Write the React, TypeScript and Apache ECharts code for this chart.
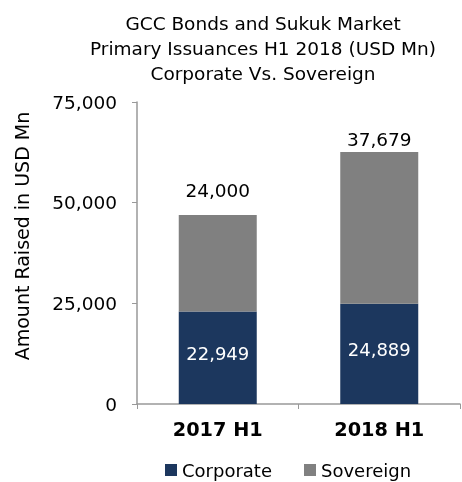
import React, { useEffect, useRef } from "react";
import * as echarts from "echarts";

const categories = ["2017 H1", "2018 H1"];
const corporate = [22949, 24889];
const sovereign = [24000, 37679];
const titleLines = [
  "GCC Bonds and Sukuk Market",
  "Primary Issuances H1 2018 (USD Mn)",
  "Corporate Vs. Sovereign",
];
const yAxisName = "Amount Raised in USD Mn";

const FONT = "DejaVu Sans";
const fmt = (v: number) => v.toLocaleString("en-US");

export default function App() {
  const ref = useRef<HTMLDivElement>(null);
  useEffect(() => {
    if (!ref.current) return;
    const chart = echarts.init(ref.current, null, { renderer: "svg" });
    const sovLabelDist = [15, 3];
    chart.setOption({
      animation: false,
      textStyle: { fontFamily: FONT },
      title: {
        text: titleLines.join("\n"),
        left: 258,
        top: 6,
        textAlign: "center",
        textStyle: {
          fontFamily: FONT,
          fontSize: 18.5,
          fontWeight: "normal",
          color: "#000",
          lineHeight: 25,
        },
      },
      graphic: [
        {
          type: "text",
          x: 22,
          y: 236,
          rotation: Math.PI / 2,
          style: {
            text: yAxisName,
            fontFamily: FONT,
            fontSize: 19,
            fill: "#000",
            align: "center",
            verticalAlign: "middle",
          },
        },
      ],
      legend: {
        top: 461,
        left: 165,
        padding: 0,
        itemWidth: 12,
        itemHeight: 12,
        itemGap: 32,
        icon: "rect",
        textStyle: { fontFamily: FONT, fontSize: 18, color: "#000" },
        data: ["Corporate", "Sovereign"],
      },
      grid: { left: 137, right: 2, top: 102, bottom: 78, containLabel: false },
      xAxis: {
        type: "category",
        data: categories,
        axisLine: { lineStyle: { color: "#999", width: 1.5 } },
        axisTick: { show: true, length: 5, lineStyle: { color: "#999" } },
        axisLabel: {
          fontFamily: FONT,
          fontSize: 19.3,
          fontWeight: "bold",
          color: "#000",
          margin: 16,
        },
      },
      yAxis: {
        type: "value",
        min: 0,
        max: 75000,
        interval: 25000,
        axisLine: { show: true, lineStyle: { color: "#999", width: 1.5 } },
        axisTick: { show: true, length: 5, lineStyle: { color: "#999" } },
        splitLine: { show: false },
        axisLabel: {
          fontFamily: FONT,
          fontSize: 18.5,
          color: "#000",
          margin: 20,
          formatter: (v: number) => fmt(v),
        },
      },
      series: [
        {
          name: "Corporate",
          type: "bar",
          stack: "total",
          barWidth: 78,
          data: corporate,
          itemStyle: { color: "#1c375e" },
          label: {
            show: true,
            position: "inside",
            offset: [0, -4],
            color: "#fff",
            fontFamily: FONT,
            fontSize: 18,
            formatter: (p: any) => fmt(p.value),
          },
        },
        {
          name: "Sovereign",
          type: "bar",
          stack: "total",
          barWidth: 78,
          data: sovereign.map((v, i) => ({
            value: v,
            label: { distance: sovLabelDist[i] },
          })),
          itemStyle: { color: "#808080" },
          label: {
            show: true,
            position: "top",
            color: "#000",
            fontFamily: FONT,
            fontSize: 18.5,
            formatter: (p: any) => fmt(p.value),
          },
        },
      ],
    });
    return () => chart.dispose();
  }, []);
  return (
    <div
      ref={ref}
      style={{ position: "fixed", left: 0, top: 0, width: 462, height: 482 }}
    />
  );
}
